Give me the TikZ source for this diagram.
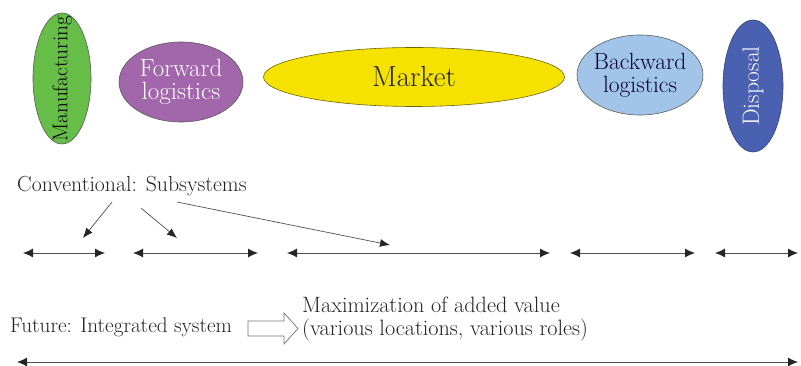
\documentclass[tikz,border=0pt]{standalone}
\usepackage{fontspec}
\usetikzlibrary{shapes.geometric,arrows.meta}
\definecolor{mfgreen}{RGB}{102,190,72}
\definecolor{fwdpurple}{RGB}{162,102,170}
\definecolor{mktyellow}{RGB}{246,226,0}
\definecolor{bwdblue}{RGB}{162,196,232}
\definecolor{dispblue}{RGB}{74,96,176}
\definecolor{inkgray}{RGB}{35,35,35}
\definecolor{linegray}{RGB}{80,80,80}
\begin{document}
\begin{tikzpicture}[x=1pt,y=-1pt,
  stage/.style={ellipse,draw=black!65,line width=0.6pt,inner sep=0pt},
  stagetext/.style={inner sep=0pt,align=center},
  tip/.style={Latex[length=10pt,width=9pt,color=black!85]},
  span/.style={{Latex[length=10pt,width=9pt,color=black!85]}-{Latex[length=10pt,width=9pt,color=black!85]},line width=0.9pt,draw=linegray},
  pointer/.style={-{Latex[length=10pt,width=8pt,color=black!85]},line width=0.7pt,draw=linegray},
  lbl/.style={font=\fontsize{21.8}{23}\selectfont,text=inkgray,inner sep=0pt,align=left}]
\useasboundingbox (0,0) rectangle (801,366);

% the five stages of the product life cycle
\node[stage,fill=mfgreen,minimum width=58pt,minimum height=131pt] (mfg) at (62,78.5) {};
\node[stagetext,font=\fontsize{21.3}{24}\selectfont] (mfgt) at (mfg.center) {\rotatebox{90}{Manufacturing}};

\node[stage,fill=fwdpurple,minimum width=124pt,minimum height=80pt] (fwd) at (181,82) {};
\node[stagetext,text=white,font=\fontsize{25}{23}\selectfont] (fwdt) at (fwd.center) {Forward\\logistics};

\node[stage,fill=mktyellow,draw=black!55!mktyellow,minimum width=301pt,minimum height=59pt] (mkt) at (414,77) {};
\node[stagetext,text=inkgray,font=\fontsize{29}{30}\selectfont] (mktt) at (mkt.center) {Market};

\node[stage,fill=bwdblue,minimum width=126pt,minimum height=80pt] (bwd) at (640,75) {};
\node[stagetext,text=black!80!blue,font=\fontsize{23.5}{23}\selectfont] (bwdt) at (bwd.center) {Backward\\logistics};

\node[stage,fill=dispblue,draw=dispblue!70!black,minimum width=60pt,minimum height=132pt] (disp) at (753,86) {};
\node[stagetext,text=white,font=\fontsize{23.5}{23}\selectfont] (dispt) at (disp.center) {\rotatebox{90}{Disposal}};

% conventional view: separate subsystems
\node[lbl,anchor=west] (conv) at (17,186) {Conventional: Subsystems};

\coordinate (s1a) at (23,253);  \coordinate (s1b) at (105,253);
\coordinate (s2a) at (133,253); \coordinate (s2b) at (258,253);
\coordinate (s3a) at (287,253); \coordinate (s3b) at (550,253);
\coordinate (s4a) at (570,253); \coordinate (s4b) at (695,253);
\coordinate (s5a) at (715,253); \coordinate (s5b) at (798,253);

\draw[span] (s1a) -- (s1b);
\draw[span] (s2a) -- (s2b);
\draw[span] (s3a) -- (s3b);
\draw[span] (s4a) -- (s4b);
\draw[span] (s5a) -- (s5b);

\coordinate (p1) at (83,238);
\coordinate (p2) at (177,238);
\coordinate (p3) at (390,245);
\draw[pointer] ([shift={(95,6)}]conv.south west) -- (p1);
\draw[pointer] ([shift={(124,12)}]conv.south west) -- (p2);
\draw[pointer] ([shift={(160,6)}]conv.south west) -- (p3);

% future view: one integrated system
\node[lbl,anchor=west,font=\fontsize{21.2}{23}\selectfont] (fut) at (10,327) {Future: Integrated system};
\node[lbl,anchor=west,font=\fontsize{22.2}{23}\selectfont] (maxv) at (302,318.5) {Maximization of added value\\(various locations, various roles)};

\draw[draw=black!55,fill=white,line width=0.7pt]
  (248,321) -- (284,321) -- (284,313) -- (298,328.5) -- (284,344) -- (284,336) -- (248,336) -- cycle;

\coordinate (fa) at (17,362);
\coordinate (fb) at (798,362);
\draw[span] (fa) -- (fb);
\end{tikzpicture}
\end{document}
